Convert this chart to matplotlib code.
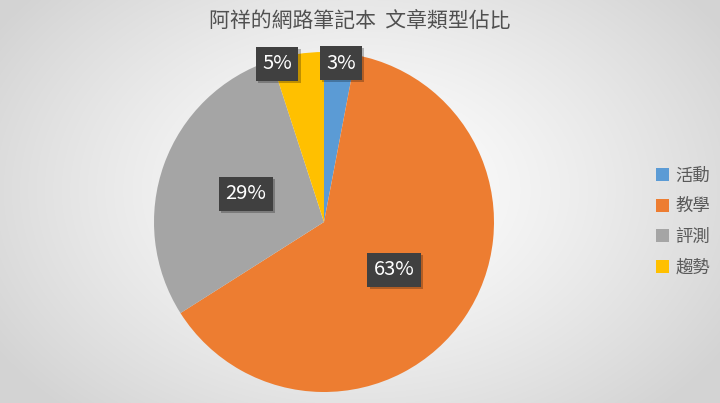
import numpy as np
import matplotlib
matplotlib.use('Agg')
import matplotlib.pyplot as plt
import matplotlib.patheffects as pe

plt.rcParams['font.family'] = ['Noto Sans CJK TC', 'DejaVu Sans']

title = '阿祥的網路筆記本  文章類型佔比'
categories = ['活動', '教學', '評測', '趨勢']
shares = [3, 63, 29, 5]
colors = ['#5B9BD5', '#ED7D31', '#A5A5A5', '#FFC000']

# label placement (fraction of radius, angular nudge in degrees)
label_r = [0.94, 0.5, 0.49, 0.97]
label_nudge = [-0.7, 0, 0, 7.5]

fig = plt.figure(figsize=(7.2, 4.03), dpi=100)

# radial background, white in the middle, grey toward the edges
bg = fig.add_axes([0, 0, 1, 1])
yy, xx = np.mgrid[0:403, 0:720]
d = np.sqrt(((xx - 360) / 430.0) ** 2 + ((yy - 190) / 300.0) ** 2)
d = np.clip(d, 0, 1)
shade = 1.0 - 0.17 * d ** 1.3
bg.imshow(np.dstack([shade, shade, shade]), aspect='auto', extent=[0, 1, 0, 1])
bg.set_axis_off()

ax = fig.add_axes([154 / 720, 11 / 403, 340 / 720, 340 / 403])
wedges, _ = ax.pie(shares, colors=colors, startangle=90, counterclock=False,
                   radius=1.0, wedgeprops=dict(linewidth=0))
ax.set_xlim(-1, 1)
ax.set_ylim(-1, 1)
ax.set_aspect('equal')
ax.set_axis_off()

total = float(sum(shares))
start = 90.0
for i, v in enumerate(shares):
    mid = start - 360.0 * v / total / 2
    start -= 360.0 * v / total
    a = np.radians(mid + label_nudge[i])
    x, y = label_r[i] * np.cos(a), label_r[i] * np.sin(a)
    t = ax.text(x, y, '{}%'.format(v), ha='center', va='center', fontsize=14.5,
                color='white',
                bbox=dict(boxstyle='square,pad=0.32', fc='#404040', ec='none'))
    t.get_bbox_patch().set_path_effects(
        [pe.SimplePatchShadow(offset=(1.5, -1.5), shadow_rgbFace='black', alpha=0.25),
         pe.Normal()])

fig.text(0.5, 0.945, title, ha='center', va='center', fontsize=15,
         fontweight='medium', color='#505050')

fig.legend(wedges, categories, loc='center left', bbox_to_anchor=(0.89, 0.45),
           frameon=False, fontsize=12.5, labelcolor='#595959', handlelength=0.75,
           handleheight=0.75, handletextpad=0.35, labelspacing=0.72)

fig.savefig('out.png', dpi=100)
